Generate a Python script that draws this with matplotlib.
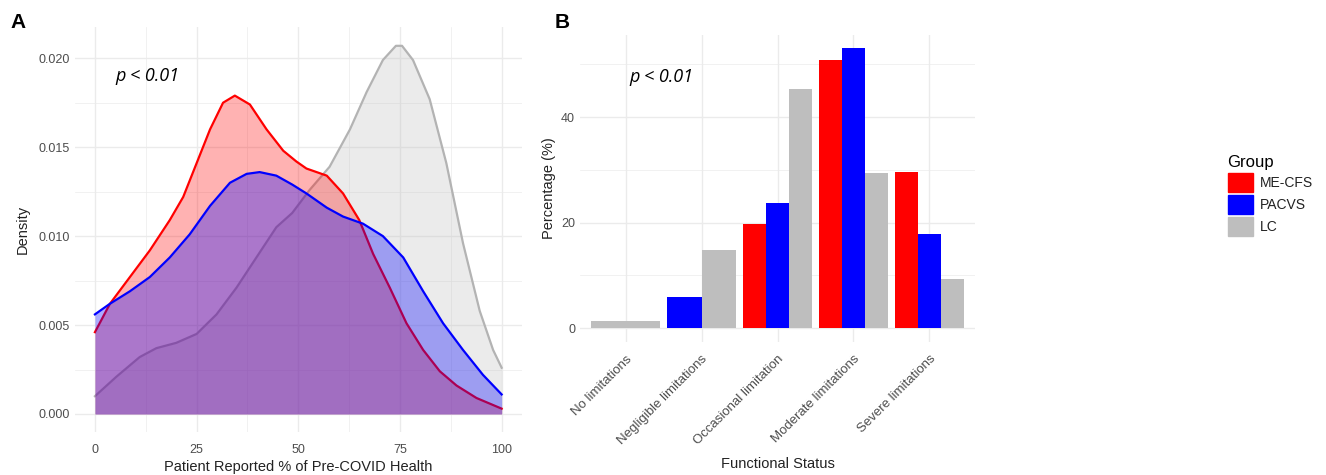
import matplotlib.pyplot as plt
import numpy as np

plt.rcParams['font.family'] = ['Liberation Sans', 'DejaVu Sans']
plt.rcParams['lines.solid_joinstyle'] = 'round'

# ---- panel A: density curves ----
x_mecfs = [0, 3.7, 8.6, 13.5, 18.4, 21.7, 25, 28.3, 31.5, 34.4, 38.1, 42.2, 46.3, 49.5,
           52, 57, 61, 65, 68.4, 72.5, 76.6, 80.7, 84.8, 88.9, 93.8, 100]
dens_mecfs = [0.0046, 0.0062, 0.0077, 0.0092, 0.0109, 0.0122, 0.0141, 0.0160, 0.0175, 0.0179,
              0.0174, 0.0160, 0.0148, 0.0142, 0.0138, 0.0134, 0.0124, 0.0109, 0.0090, 0.0071,
              0.0051, 0.0036, 0.0024, 0.0016, 0.0009, 0.0003]

x_pacvs = [0, 3.7, 8.6, 13.5, 18.4, 23.3, 28.3, 33.2, 37.3, 40.5, 44.6, 48.5,
           52, 57, 61, 65.9, 70.8, 75.8, 80.7, 85.6, 90.5, 95.4, 100]
dens_pacvs = [0.0056, 0.0062, 0.0069, 0.0077, 0.0088, 0.0101, 0.0117, 0.0130, 0.0135, 0.0136,
              0.0134, 0.0129, 0.0124, 0.0116, 0.0111, 0.0107, 0.0100, 0.0088, 0.0069, 0.0051,
              0.0036, 0.0022, 0.0011]

x_lc = [0, 5.3, 11, 15.1, 20, 25, 29.9, 34.8, 39.7, 44.6, 48.5, 52.8, 57.7, 62.7,
        66.8, 70.8, 74, 75.5, 78.2, 82.3, 86.4, 90.5, 94.6, 97.9, 100]
dens_lc = [0.0010, 0.0021, 0.0032, 0.0037, 0.0040, 0.0045, 0.0056, 0.0071, 0.0088, 0.0105,
           0.0113, 0.0126, 0.0139, 0.0160, 0.0181, 0.0199, 0.0207, 0.0207, 0.0199, 0.0177,
           0.0141, 0.0096, 0.0058, 0.0036, 0.0026]

# ---- panel B: functional status bars ----
status = ["No limitations", "Negligible limitations", "Occasional limitation",
          "Moderate limitations", "Severe limitations"]
groups = ["ME-CFS", "PACVS", "LC"]
pct_mecfs = [np.nan, np.nan, 19.7, 50.8, 29.6]
pct_pacvs = [np.nan, 5.9, 23.7, 53.0, 17.8]
pct_lc = [1.3, 14.8, 45.3, 29.3, 9.3]

colors = {"ME-CFS": "#ff0000", "PACVS": "#0000ff", "LC": "#bebebe"}
grid_c = "#ebebeb"
tick_c = "#4d4d4d"

W, H = 1326, 475
fig = plt.figure(figsize=(W / 100, H / 100), dpi=100)


def px_axes(left, top, right, bottom):
    return fig.add_axes([left / W, 1 - bottom / H, (right - left) / W, (bottom - top) / H])


def minimal(ax):
    for s in ax.spines.values():
        s.set_visible(False)
    ax.tick_params(length=0, colors=tick_c, labelsize=9)
    ax.set_axisbelow(True)


# -------------------------
# A) density plot
# -------------------------
axA = px_axes(74.6, 27.4, 522, 432.4)
minimal(axA)
ymax = max(max(dens_mecfs), max(dens_pacvs), max(dens_lc))
axA.set_xlim(-5, 105)
axA.set_ylim(-0.05 * ymax, 1.05 * ymax)
axA.set_xticks([0, 25, 50, 75, 100])
axA.set_xticks([12.5, 37.5, 62.5, 87.5], minor=True)
axA.set_yticks([0, 0.005, 0.010, 0.015, 0.020])
axA.set_yticks([0.0025, 0.0075, 0.0125, 0.0175], minor=True)
axA.set_yticklabels(["0.000", "0.005", "0.010", "0.015", "0.020"])
axA.tick_params(which='minor', length=0)
axA.tick_params(axis='x', pad=8)
axA.grid(which='major', color=grid_c, lw=1.0)
axA.grid(which='minor', color=grid_c, lw=0.5)

axA.fill_between(x_lc, dens_lc, color="#bebebe", alpha=0.3, lw=0, zorder=2)
axA.plot(x_lc, dens_lc, color="#b3b3b3", lw=1.6, zorder=2.1)
axA.fill_between(x_mecfs, dens_mecfs, color="#ff0000", alpha=0.3, lw=0, zorder=3)
axA.plot(x_mecfs, dens_mecfs, color="#ff0000", lw=1.6, zorder=3.1)
axA.fill_between(x_pacvs, dens_pacvs, color="#0000ff", alpha=0.33, lw=0, zorder=4)
axA.plot(x_pacvs, dens_pacvs, color="#0000ff", lw=1.6, zorder=4.1)

axA.set_xlabel("Patient Reported % of Pre-COVID Health", fontsize=10.5, color="#222222", labelpad=3)
axA.set_ylabel("Density", fontsize=10.5, color="#222222", labelpad=6)
axA.text(5, 0.0190, "p < 0.01", style='italic', fontsize=13, ha='left', va='center',
         family=['Open Sans', 'DejaVu Sans'])
fig.text(10 / W, 1 - 22 / H, "A", fontsize=15, fontweight='bold', va='center')

# -------------------------
# B) bar plot
# -------------------------
axB = px_axes(580, 34.5, 975, 342)
minimal(axB)
series = {"ME-CFS": pct_mecfs, "PACVS": pct_pacvs, "LC": pct_lc}
bmax = np.nanmax(np.array([pct_mecfs, pct_pacvs, pct_lc]))
for i, cat in enumerate(status):
    present = [g for g in groups if not np.isnan(series[g][i])]
    w = 0.9 / len(present)
    for k, g in enumerate(present):
        axB.bar(i - 0.45 + w * (k + 0.5), series[g][i], width=w, color=colors[g], zorder=3)

axB.set_xlim(-0.6, len(status) - 0.4)
axB.set_ylim(-0.05 * bmax, 1.05 * bmax)
axB.set_xticks(range(len(status)))
axB.set_xticklabels(status, rotation=45, ha='right', rotation_mode='anchor', fontsize=9.5)
axB.set_yticks([0, 20, 40])
axB.set_yticks([10, 30, 50], minor=True)
axB.tick_params(which='minor', length=0)
axB.grid(which='major', color=grid_c, lw=1.0)
axB.grid(which='minor', axis='y', color=grid_c, lw=0.5)
axB.tick_params(axis='x', pad=8)
axB.set_xlabel("Functional Status", fontsize=10.5, color="#222222", labelpad=7)
axB.set_ylabel("Percentage (%)", fontsize=10.5, color="#222222", labelpad=4)
axB.text(0.05, 47.5, "p < 0.01", style='italic', fontsize=13, ha='left', va='center',
         family=['Open Sans', 'DejaVu Sans'])
fig.text(555 / W, 1 - 22 / H, "B", fontsize=15, fontweight='bold', va='center')

# legend
handles = [plt.Rectangle((0, 0), 1, 1, color=colors[g]) for g in groups]
leg = fig.legend(handles, groups, title="Group", loc='upper left',
                 bbox_to_anchor=(1215 / W, 1 - 143 / H), frameon=False,
                 fontsize=10, title_fontsize=12, handlelength=1.85, handleheight=1.75,
                 handletextpad=0.5, labelspacing=0.2)
leg._legend_box.align = "left"
for t in leg.get_texts():
    t.set_color("#222222")

fig.savefig("out.png", dpi=100)
